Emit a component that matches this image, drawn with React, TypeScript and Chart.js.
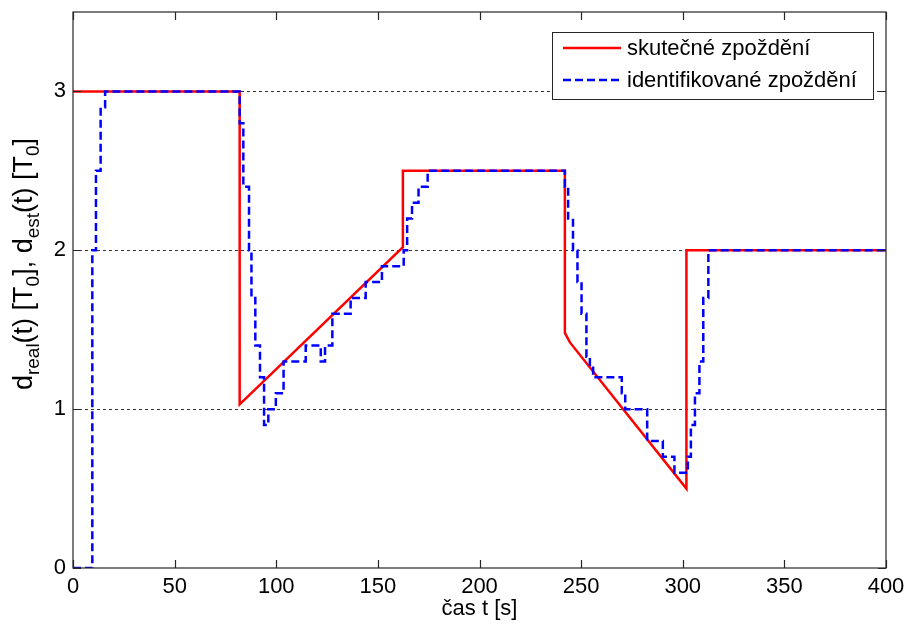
import React, { useEffect, useRef } from 'react';
import { Chart, registerables } from 'chart.js';

Chart.register(...registerables);

// ---- data ----
const xTicks = [0, 50, 100, 150, 200, 250, 300, 350, 400];
const yTicks = [0, 1, 2, 3];
const xMin = 0;
const xMax = 400;
const yMin = 0;
const yMax = 3.5;

const seriesLabels = ['skutečné zpoždění', 'identifikované zpoždění'];
const xTitle = 'čas t [s]';
// [text, isSubscript]
const yTitleParts: [string, boolean][] = [
  ['d', false], ['real', true], ['(t) [T', false], ['0', true], ['], d', false],
  ['est', true], ['(t) [T', false], ['0', true], [']', false],
];

const realT = [0, 82, 82, 162.3, 162.3, 242, 242, 244.5, 301.8, 301.8, 400];
const realD = [3, 3, 1.03, 2.02, 2.5, 2.5, 1.48, 1.42, 0.5, 2.0, 2.0];

const estT = [
  0, 9.5, 9.5, 11.3, 11.3, 13.6, 13.6, 15.8, 15.8, 82, 82, 83.8, 83.8, 86.6, 86.6,
  87.8, 87.8, 89.7, 89.7, 92, 92, 94, 94, 96.1, 96.1, 99.8, 99.8, 103.6, 103.6,
  114.5, 114.5, 121.9, 121.9, 124, 124, 127.6, 127.6, 136.6, 136.6, 144, 144, 152,
  152, 162.7, 162.7, 164.4, 164.4, 166.8, 166.8, 170, 170, 174.5, 174.5, 242, 242,
  243.6, 243.6, 246, 246, 248.2, 248.2, 250.2, 250.2, 252.6, 252.6, 254.3, 254.3,
  255.9, 255.9, 270, 270, 271.7, 271.7, 282.5, 282.5, 290.2, 290.2, 295.9, 295.9,
  302.5, 302.5, 304, 304, 306, 306, 308.2, 308.2, 310.1, 310.1, 312.6, 312.6, 400,
];
const estD = [
  0, 0, 2.0, 2.0, 2.5, 2.5, 2.9, 2.9, 3.0, 3.0, 2.8, 2.8, 2.4, 2.4, 2.0,
  2.0, 1.7, 1.7, 1.4, 1.4, 1.2, 1.2, 0.9, 0.9, 1.0, 1.0, 1.1, 1.1, 1.3,
  1.3, 1.4, 1.4, 1.3, 1.3, 1.4, 1.4, 1.6, 1.6, 1.7, 1.7, 1.8, 1.8,
  1.9, 1.9, 2.0, 2.0, 2.2, 2.2, 2.3, 2.3, 2.4, 2.4, 2.5, 2.5, 2.4,
  2.4, 2.2, 2.2, 2.0, 2.0, 1.8, 1.8, 1.6, 1.6, 1.33, 1.33, 1.26,
  1.26, 1.2, 1.2, 1.1, 1.1, 1.0, 1.0, 0.8, 0.8, 0.7, 0.7, 0.6,
  0.6, 0.7, 0.7, 0.9, 0.9, 1.1, 1.1, 1.3, 1.3, 1.7, 1.7, 2.0, 2.0,
];

const FONT = 'Arial, "Liberation Sans", sans-serif';

const matlabPlugin = {
  id: 'matlabFrame',
  beforeDatasetsDraw(chart: any) {
    const { ctx, chartArea: a, scales } = chart;
    ctx.save();
    ctx.strokeStyle = '#333';
    ctx.lineWidth = 1;
    ctx.setLineDash([3, 3]);
    for (const v of yTicks) {
      if (v === yMin) continue;
      const y = Math.round(scales.y.getPixelForValue(v)) + 0.5;
      ctx.beginPath();
      ctx.moveTo(a.left, y);
      ctx.lineTo(a.right, y);
      ctx.stroke();
    }
    ctx.restore();
  },
  afterDatasetsDraw(chart: any) {
    const { ctx, chartArea: a, scales } = chart;
    ctx.save();
    // frame
    ctx.strokeStyle = '#262626';
    ctx.lineWidth = 1.2;
    ctx.setLineDash([]);
    ctx.strokeRect(a.left, a.top, a.right - a.left, a.bottom - a.top);
    const tl = 8;
    ctx.beginPath();
    for (const v of xTicks) {
      const x = Math.round(scales.x.getPixelForValue(v)) + 0.5;
      ctx.moveTo(x, a.bottom); ctx.lineTo(x, a.bottom - tl);
      ctx.moveTo(x, a.top); ctx.lineTo(x, a.top + tl);
    }
    for (const v of yTicks) {
      const y = Math.round(scales.y.getPixelForValue(v)) + 0.5;
      ctx.moveTo(a.left, y); ctx.lineTo(a.left + tl, y);
      ctx.moveTo(a.right, y); ctx.lineTo(a.right - tl, y);
    }
    ctx.stroke();

    // legend
    const lx = 552.5, ly = 32.5, lw = 321, lh = 67;
    ctx.fillStyle = '#fff';
    ctx.fillRect(lx, ly, lw, lh);
    ctx.strokeStyle = '#262626';
    ctx.lineWidth = 1;
    ctx.strokeRect(lx, ly, lw, lh);
    const rows = [48, 80];
    chart.data.datasets.forEach((ds: any, i: number) => {
      const y = rows[i];
      ctx.strokeStyle = ds.borderColor;
      ctx.lineWidth = ds.borderWidth;
      ctx.setLineDash(ds.borderDash || []);
      ctx.beginPath();
      ctx.moveTo(563, y);
      ctx.lineTo(621, y);
      ctx.stroke();
      ctx.setLineDash([]);
      ctx.fillStyle = '#000';
      ctx.font = `22px ${FONT}`;
      ctx.textAlign = 'left';
      ctx.textBaseline = 'middle';
      ctx.fillText(ds.label, 627, y + 1);
    });

    // x title
    ctx.fillStyle = '#000';
    ctx.font = `22px ${FONT}`;
    ctx.textAlign = 'center';
    ctx.textBaseline = 'middle';
    ctx.fillText(xTitle, (a.left + a.right) / 2, 609);

    // y title with subscripts
    const mainFont = `27px ${FONT}`;
    const subFont = `19px ${FONT}`;
    let total = 0;
    const widths = yTitleParts.map(([t, sub]) => {
      ctx.font = sub ? subFont : mainFont;
      const w = ctx.measureText(t).width;
      total += w;
      return w;
    });
    ctx.translate(32, 264);
    ctx.rotate(-Math.PI / 2);
    ctx.textAlign = 'left';
    ctx.textBaseline = 'alphabetic';
    let x = -total / 2;
    yTitleParts.forEach(([t, sub], i) => {
      ctx.font = sub ? subFont : mainFont;
      ctx.fillText(t, x, sub ? 7 : 0);
      x += widths[i];
    });
    ctx.restore();
  },
};

export default function App() {
  const ref = useRef<HTMLCanvasElement | null>(null);
  useEffect(() => {
    const canvas = ref.current;
    if (!canvas) return;
    const chart = new Chart(canvas, {
      type: 'line',
      data: {
        datasets: [
          {
            label: seriesLabels[0],
            data: realT.map((t, i) => ({ x: t, y: realD[i] })),
            borderColor: '#ff0000',
            borderWidth: 2.5,
            pointRadius: 0,
            tension: 0,
            fill: false,
            order: 2,
          },
          {
            label: seriesLabels[1],
            data: estT.map((t, i) => ({ x: t, y: estD[i] })),
            borderColor: '#0000ff',
            borderWidth: 2.5,
            borderDash: [8, 4],
            pointRadius: 0,
            tension: 0,
            fill: false,
            order: 1,
          },
        ],
      },
      options: {
        responsive: false,
        animation: false,
        devicePixelRatio: 1,
        layout: { padding: { left: 0, right: 26, top: 12, bottom: 0 } },
        plugins: { legend: { display: false }, tooltip: { enabled: false } },
        scales: {
          x: {
            type: 'linear',
            min: xMin,
            max: xMax,
            afterBuildTicks: (s: any) => { s.ticks = xTicks.map((v) => ({ value: v })); },
            afterFit: (s: any) => {
              s.height = 57;
              s.paddingLeft = 0; s.paddingRight = 0; s.paddingTop = 0; s.paddingBottom = 0;
            },
            grid: { display: false, drawTicks: false },
            border: { display: false },
            ticks: {
              font: { size: 22, family: FONT },
              color: '#000',
              padding: 6,
              maxRotation: 0,
              autoSkip: false,
            },
          },
          y: {
            type: 'linear',
            min: yMin,
            max: yMax,
            afterBuildTicks: (s: any) => { s.ticks = yTicks.map((v) => ({ value: v })); },
            afterFit: (s: any) => {
              s.width = 73;
              s.paddingLeft = 0; s.paddingRight = 0; s.paddingTop = 0; s.paddingBottom = 0;
            },
            grid: { display: false, drawTicks: false },
            border: { display: false },
            ticks: {
              font: { size: 22, family: FONT },
              color: '#000',
              padding: 7,
              autoSkip: false,
            },
          },
        },
      } as any,
      plugins: [matlabPlugin],
    });
    return () => chart.destroy();
  }, []);
  return (
    <div style={{ position: 'fixed', left: 0, top: 0, width: 912, height: 625, background: '#fff' }}>
      <canvas ref={ref} width={912} height={625} style={{ display: 'block' }} />
    </div>
  );
}
